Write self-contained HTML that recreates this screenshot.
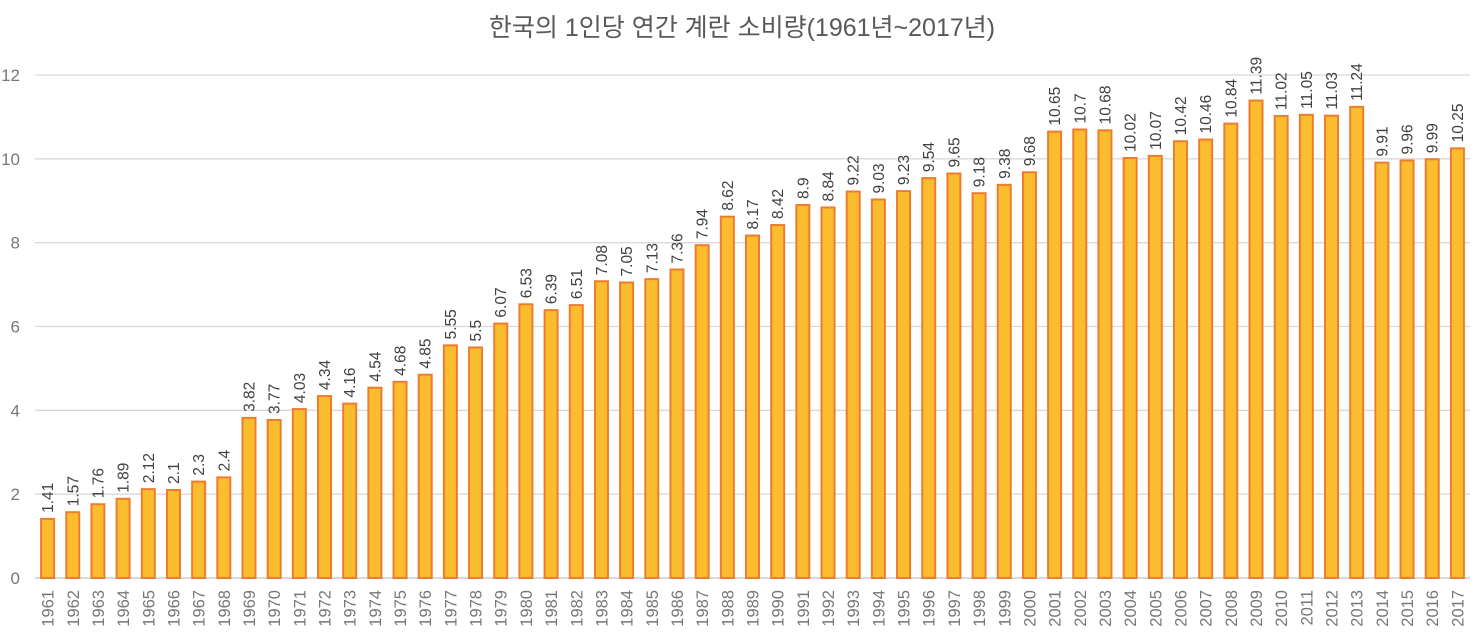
<!DOCTYPE html>
<html><head><meta charset="utf-8"><style>
html,body{margin:0;padding:0;background:#fff;}
svg{display:block;}
</style></head><body>
<svg id="chart" width="1484" height="642" xmlns="http://www.w3.org/2000/svg">
<text x="742" y="36" text-anchor="middle" font-family="'Liberation Sans','Noto Sans CJK KR',sans-serif" font-size="25" fill="#595959">한국의 1인당 연간 계란 소비량(1961년~2017년)</text>
<g id="grid"></g><g id="bars"></g><g id="labels"></g>
</svg>
<script>
const years = [];
for (let y = 1961; y <= 2017; y++) years.push(String(y));
const values = [1.41,1.57,1.76,1.89,2.12,2.1,2.3,2.4,3.82,3.77,4.03,4.34,4.16,4.54,4.68,4.85,5.55,5.5,6.07,6.53,6.39,6.51,7.08,7.05,7.13,7.36,7.94,8.62,8.17,8.42,8.9,8.84,9.22,9.03,9.23,9.54,9.65,9.18,9.38,9.68,10.65,10.7,10.68,10.02,10.07,10.42,10.46,10.84,11.39,11.02,11.05,11.03,11.24,9.91,9.96,9.99,10.25];
const yTicks = [0,2,4,6,8,10,12];
const NS = 'http://www.w3.org/2000/svg';
const left = 35, right = 1470, y0 = 578, y12 = 75;
const yScale = v => y0 - (y0 - y12) * v / 12;
const step = (right - left) / years.length;
const xCenter = i => left + step * (i + 0.5);
const font = "'Liberation Sans',sans-serif";
function mk(tag, attrs, parent) {
  const e = document.createElementNS(NS, tag);
  for (const k in attrs) e.setAttribute(k, attrs[k]);
  parent.appendChild(e); return e;
}
const grid = document.getElementById('grid'), bars = document.getElementById('bars'), labels = document.getElementById('labels');
yTicks.forEach(t => {
  const l = mk('line', {x1: left, x2: right, y1: yScale(t), y2: yScale(t), stroke: '#d9d9d9', 'stroke-width': t === 0 ? 2 : 1.3}, grid);
  
  
  const tx = mk('text', {x: 20, y: yScale(t) + 6, 'text-anchor': 'end', 'font-family': font, 'font-size': 17, fill: '#777'}, grid);
  tx.textContent = t;
  
  
});
values.forEach((v, i) => {
  const cx = xCenter(i), w = 13, yt = yScale(v);
  const r = mk('rect', {x: cx - w / 2, y: yt, width: w, height: y0 - yt, fill: '#fbbd2e', stroke: '#ee7c30', 'stroke-width': 2}, bars);
  
  
  const vl = mk('text', {transform: `translate(${cx + 5.5},${yt - 6}) rotate(-90)`, 'font-family': font, 'font-size': 15.5, fill: '#404040'}, labels);
  vl.textContent = v;
  
  
  const xl = mk('text', {transform: `translate(${cx + 6},${590}) rotate(-90)`, 'text-anchor': 'end', 'font-family': font, 'font-size': 16.5, fill: '#777'}, labels);
  xl.textContent = years[i];
  
  
});
</script>
</body></html>
